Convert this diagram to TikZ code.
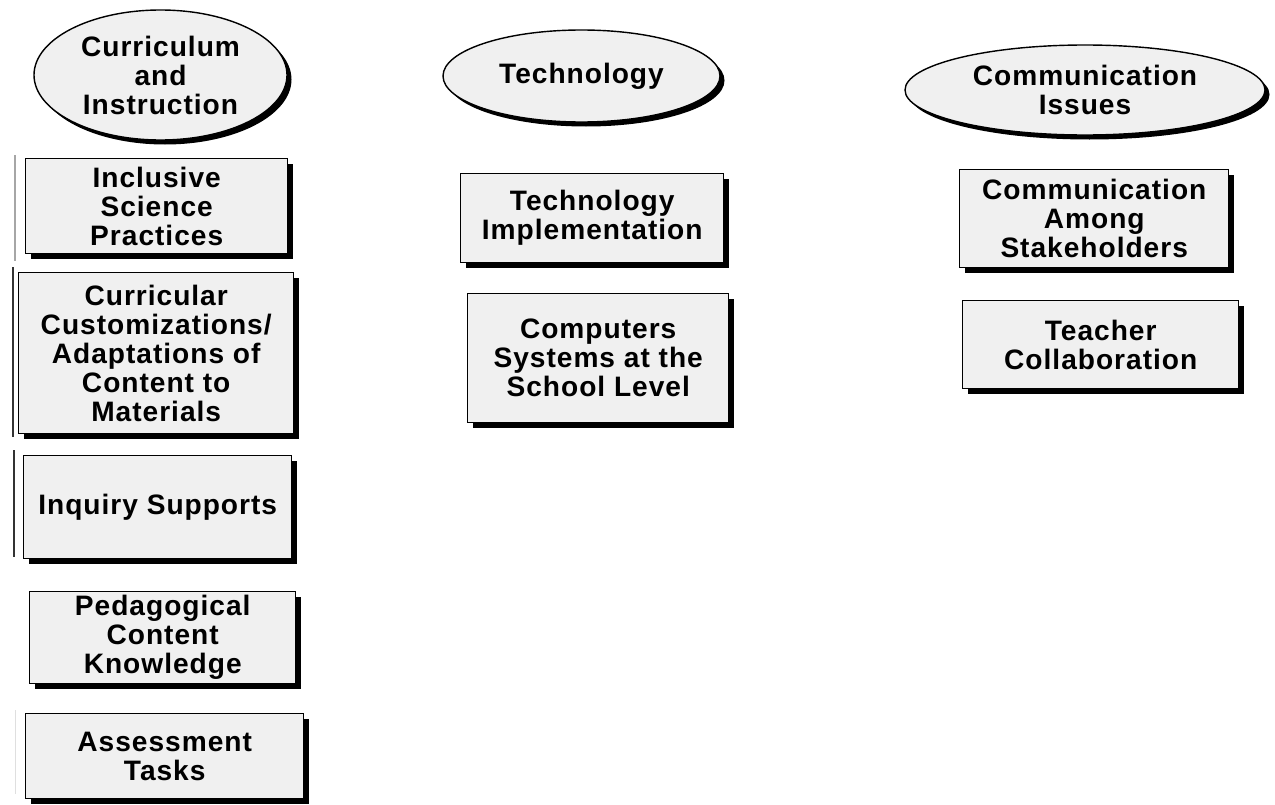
\documentclass[tikz,border=0pt]{standalone}
\usepackage{fontspec}
\setmainfont{Liberation Sans}[LetterSpace=3.5]
\usepackage{tikz}
\usetikzlibrary{shapes.geometric}
\usetikzlibrary{shadows}
\usetikzlibrary{positioning}

\begin{document}
\begin{tikzpicture}[
	topic/.style={draw, line width=0.8pt, ellipse, inner sep=0pt, fill=gray!12, align=center,
		drop shadow={shadow xshift=0.09cm, shadow yshift=-0.09cm, fill=black, opacity=1}},
	item/.style={draw, line width=0.8pt, rectangle, inner sep=0pt, anchor=north west, fill=gray!12, align=center,
		drop shadow={shadow xshift=0.11cm, shadow yshift=-0.11cm, fill=black, opacity=1}},
	font=\bfseries\fontsize{16}{16.5}\selectfont]
		\useasboundingbox (0,0) rectangle (25.5,-16.08);

		%coordinates
		\coordinate (CIc)   at (3.21,-1.5);
		\coordinate (Techc) at (11.63,-1.52);
		\coordinate (Commc) at (21.7,-1.8);

		\coordinate (ISPnw) at (0.5,-3.16);
		\coordinate (CCnw)  at (0.36,-5.44);
		\coordinate (ISnw)  at (0.46,-9.1);
		\coordinate (PCKnw) at (0.58,-11.82);
		\coordinate (ATnw)  at (0.5,-14.26);
		\coordinate (TInw)  at (9.2,-3.46);
		\coordinate (CSnw)  at (9.34,-5.86);
		\coordinate (CASnw) at (19.18,-3.38);
		\coordinate (TCnw)  at (19.24,-6.0);

		%nodes
		\node[topic, minimum width=5.06cm, minimum height=2.6cm] (CI) at (CIc) {Curriculum\\and\\Instruction};
		\node[topic, minimum width=5.54cm, minimum height=1.84cm] (Tech) at (Techc) {Technology};
		\node[topic, minimum width=7.2cm, minimum height=1.8cm] (Comm) at (Commc) {Communication\\Issues};

		\node[item, minimum width=5.24cm, minimum height=1.9cm] (ISP) at (ISPnw) {Inclusive\\Science\\Practices};
		\node[item, minimum width=5.5cm, minimum height=3.22cm] (CC) at (CCnw) {Curricular\\Customizations/\\Adaptations of\\Content to\\Materials};
		\node[item, minimum width=5.36cm, minimum height=2.06cm] (IS) at (ISnw) {Inquiry Supports};
		\node[item, minimum width=5.32cm, minimum height=1.84cm] (PCK) at (PCKnw) {Pedagogical\\Content\\Knowledge};
		\node[item, minimum width=5.56cm, minimum height=1.7cm] (AT) at (ATnw) {Assessment\\Tasks};

		\node[item, minimum width=5.26cm, minimum height=1.78cm] (TI) at (TInw) {Technology\\Implementation};
		\node[item, minimum width=5.22cm, minimum height=2.58cm] (CS) at (CSnw) {Computers\\Systems at the\\School Level};

		\node[item, minimum width=5.38cm, minimum height=1.96cm] (CAS) at (CASnw) {Communication\\Among\\Stakeholders};
		\node[item, minimum width=5.52cm, minimum height=1.76cm] (TC) at (TCnw) {Teacher\\Collaboration};

		%left edge marks
		\draw[gray!70, line width=0.6pt] ([xshift=-0.2cm, yshift=0.06cm]ISP.north west) -- ([xshift=-0.2cm, yshift=-0.14cm]ISP.south west);
		\draw[black!80, line width=0.8pt] ([xshift=-0.1cm, yshift=0.1cm]CC.north west) -- ([xshift=-0.1cm, yshift=-0.06cm]CC.south west);
		\draw[black!80, line width=0.8pt] ([xshift=-0.18cm, yshift=0.1cm]IS.north west) -- ([xshift=-0.18cm, yshift=0.04cm]IS.south west);
		\draw[gray!25, line width=0.5pt] ([xshift=-0.2cm, yshift=0.06cm]AT.north west) -- ([xshift=-0.2cm, yshift=0.1cm]AT.south west);
\end{tikzpicture}
\end{document}
